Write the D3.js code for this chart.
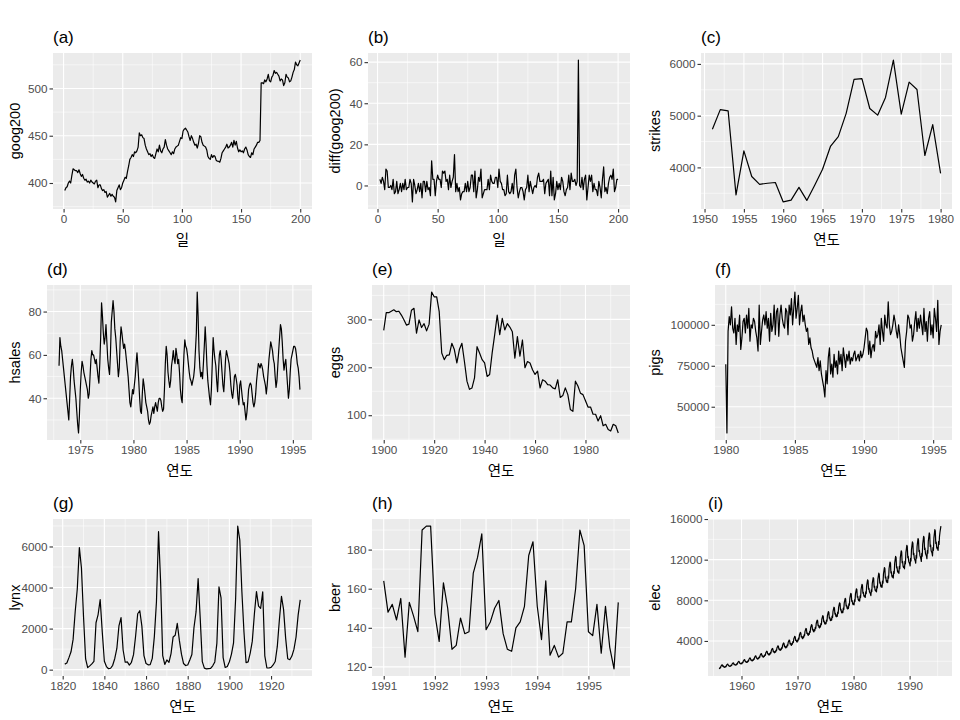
<!DOCTYPE html>
<html>
<head>
<meta charset="utf-8">
<script src="https://cdn.jsdelivr.net/npm/d3@7"></script>
<style>
  body { margin: 0; background: #fff; }
  text { font-family: "Liberation Sans", Arial, "Noto Sans CJK KR", sans-serif; }
</style>
</head>
<body>
<div id="chart"></div>
<script>
// ---- data ----
const goog200 = [
  392,395,396,400,402,400,408,415,414,413, 413,411,414,410,407,409,405,403,404,401,
  402,400,403,401,400,399,402,403,395,398, 398,394,392,393,390,391,385,387,389,386,
  388,386,385,380,392,395,398,393,395,400, 403,406,405,412,418,425,427,430,428,433,
  432,434,438,453,450,451,448,447,440,436, 433,430,431,428,430,427,426,431,436,433,
  440,434,432,436,438,446,440,436,434,432, 430,433,431,436,438,439,440,444,448,447,
  455,457,458,456,454,449,445,450,447,443, 440,441,437,442,450,449,443,440,439,438,
  435,428,426,425,430,427,429,428,424,423, 423,422,426,432,434,436,438,441,437,438,
  440,443,438,445,440,444,437,433,435,433, 434,432,436,438,435,430,428,427,432,430,
  436,438,440,443,443,445,506,506,505,509, 507,510,515,508,507,512,514,519,516,517,
  515,513,508,510,509,503,506,515,512,511, 507,508,512,517,520,528,525,524,527,530
];
const strikes = [4737,5117,5091,3468,4320,3825,3673,3694,3708,3333,3367,3614,3362,3655,3963,
  4405,4595,5045,5700,5716,5138,5010,5353,6074,5031,5648,5506,4230,4827,3885];
const hsales = [
  55,68,64,62,58,54,50,46,42,38,34,30,  40,50,55,58,54,48,44,40,34,28,24,32,
  44,52,57,55,52,50,48,46,44,40,42,50,  58,62,60,60,58,56,58,54,50,47,56,68,
  84,78,70,65,68,74,66,58,54,51,60,75,  80,85,80,72,68,62,56,50,54,66,73,70,
  66,63,65,62,58,54,50,44,38,36,40,44,  42,46,50,56,61,55,48,40,34,33,42,49,
  46,42,38,36,34,30,28,29,32,34,36,33,  36,38,36,34,38,40,40,39,36,34,35,44,
  56,64,60,52,48,45,48,55,58,62,58,56,  63,60,56,58,52,44,40,38,50,60,67,64,
  63,60,56,52,49,48,46,48,50,54,62,70,  89,78,62,54,50,52,49,56,64,73,65,55,
  48,44,40,37,44,56,68,62,58,55,48,43,  52,60,62,58,52,46,43,50,58,62,60,58,
  56,52,46,42,40,44,50,51,49,46,40,37,  46,48,44,40,37,38,34,30,33,38,44,46,
  47,46,42,38,36,38,42,48,52,56,55,54,  56,55,53,50,48,46,42,46,52,58,62,66,
  64,62,58,56,50,45,48,55,62,68,74,72,  66,58,53,56,58,52,46,40,44,52,58,60,
  62,64,64,63,60,56,54,50,44
];
const eggs = [277,314,314,317,320,316,317,309,299,288,290,319,323,271,299,283,291,276,290,357,
  347,347,316,230,216,225,226,250,237,209,237,250,212,171,154,157,178,243,230,216,
  209,181,185,230,268,309,268,302,278,291,284,274,219,264,223,257,199,212,209,195,
  185,192,157,174,171,164,163,157,155,174,137,141,157,143,112,108,171,161,146,143,
  130,117,117,102,102,88,99,78,81,70,67,81,78,63];
const pigs = [
  76,34,96,105,100,111,98,95,104,88,100,96,  106,85,92,102,104,95,106,98,110,90,100,98,
  104,102,96,92,84,112,88,96,103,106,100,108, 98,104,90,107,96,100,112,94,108,110,93,106,
  112,104,100,98,110,108,94,112,106,116,100,110, 120,104,110,118,100,108,112,102,106,100,96,98,
  88,92,86,84,80,78,76,74,80,72,78,70,  66,62,56,72,64,80,86,70,76,68,82,74,
  78,70,84,76,82,72,86,80,74,82,78,84,  76,80,78,82,84,78,80,82,78,84,80,82,
  86,92,98,96,82,90,80,86,88,84,96,92,  94,100,88,104,96,90,106,100,98,114,100,94,
  96,100,106,102,96,92,100,94,86,82,78,74,  90,96,106,104,98,100,90,94,102,108,96,104,
  98,106,100,94,110,96,102,90,104,108,94,100,  92,110,104,96,115,88,96,100
].map(d => d * 1000);
const lynx = [269,321,585,871,1475,2821,3928,5943,4950,2577,523,98,184,279,409,2285,2685,3409,1824,409,
  151,45,68,213,546,1033,2129,2536,957,361,377,225,360,731,1638,2725,2871,2119,684,299,
  236,245,552,1623,3311,6721,4254,687,255,473,358,784,1594,1676,2251,1426,756,299,201,229,
  469,736,2042,2811,4431,2511,389,73,39,49,59,188,377,1292,4031,3495,587,105,153,387,
  758,1307,3465,6991,6313,3794,1836,345,382,808,1388,2713,3800,3091,2985,3790,674,81,80,108,
  229,399,1132,2432,3574,2935,1537,529,485,662,1000,1590,2657,3396];
const beer = [164,148,152,144,155,125,153,146,138,190,192,192, 147,133,163,150,129,131,145,137,138,168,176,188,
  139,143,150,154,137,129,128,140,143,151,177,184, 151,134,164,126,131,125,127,143,143,160,190,182,
  138,136,152,127,151,130,119,153];
const elec = [
  1254,1290,1379,1346,1535,1555,1655,1651,1500,1538,1486,1394,
  1450,1420,1510,1480,1620,1670,1720,1700,1560,1580,1510,1500,
  1560,1530,1630,1600,1750,1800,1850,1830,1680,1700,1630,1610,
  1680,1650,1760,1720,1880,1940,1990,1970,1810,1830,1760,1740,
  1820,1780,1900,1860,2040,2100,2160,2140,1960,1980,1900,1880,
  1970,1930,2060,2010,2200,2270,2330,2310,2120,2140,2060,2040,
  2140,2090,2230,2190,2390,2460,2530,2510,2300,2320,2230,2210,
  2330,2280,2430,2380,2600,2680,2750,2730,2500,2530,2430,2400,
  2530,2480,2640,2580,2830,2910,2990,2960,2720,2750,2640,2610,
  2750,2690,2870,2810,3080,3170,3260,3230,2960,2990,2870,2840,
  2980,2910,3100,3040,3330,3420,3520,3490,3200,3230,3100,3070,
  3210,3140,3350,3280,3590,3690,3800,3760,3450,3480,3350,3310,
  3460,3390,3610,3530,3870,3980,4090,4050,3720,3760,3610,3570,
  3770,3690,3930,3850,4210,4330,4460,4410,4050,4090,3930,3890,
  4090,4000,4270,4180,4580,4710,4840,4800,4400,4440,4270,4220,
  4420,4320,4610,4510,4940,5080,5230,5180,4750,4800,4610,4560,
  4740,4640,4950,4850,5300,5460,5610,5560,5100,5150,4950,4900,
  5120,5010,5340,5230,5720,5890,6050,6000,5500,5560,5340,5280,
  5490,5370,5720,5610,6140,6310,6490,6430,5900,5960,5720,5660,
  5810,5690,6060,5940,6500,6690,6880,6810,6250,6310,6060,6000,
  6180,6050,6450,6320,6920,7120,7320,7250,6650,6720,6450,6380,
  6560,6420,6840,6700,7330,7540,7760,7680,7050,7120,6840,6770,
  6930,6780,7230,7080,7750,7970,8200,8120,7450,7520,7230,7150,
  7350,7190,7660,7510,8220,8450,8690,8610,7900,7980,7660,7580,
  7720,7550,8050,7890,8630,8880,9130,9050,8300,8380,8050,7970,
  8090,7920,8440,8270,9050,9310,9570,9480,8700,8790,8440,8350,
  8460,8280,8830,8650,9460,9740,10010,9920,9100,9190,8830,8740,
  8650,8460,9020,8840,9670,9950,10230,10140,9300,9390,9020,8930,
  9020,8830,9410,9220,10090,10380,10670,10570,9700,9800,9410,9310,
  9490,9280,9890,9690,10610,10910,11220,11120,10200,10300,9890,9790,
  9950,9740,10380,10170,11130,11450,11770,11660,10700,10810,10380,10270,
  10420,10190,10860,10640,11650,11980,12320,12210,11200,11310,10860,10750,
  10880,10650,11350,11120,12170,12520,12870,12750,11700,11820,11350,11230,
  11350,11100,11830,11590,12690,13050,13420,13300,12200,12320,11830,11710,
  11630,11380,12130,11880,13000,13380,13750,13630,12500,12630,12130,12000,
  11900,11650,12420,12160,13310,13700,14080,13950,12800,12930,12420,12290,
  12090,11830,12610,12350,13520,13910,14300,14170,13000,13130,12610,12480,
  12370,12100,12900,12640,13830,14230,14630,14500,13300,13430,12900,12770,
  12650,12380,13190,12920,14140,14550,14960,14820,13600,13740,13190,13060,
  13210,12920,13770,13490,14300,14700,15000,15300
];

const diffGoog = goog200.slice(1).map((d, i) => d - goog200[i]);

// time index helpers: ts(start, frequency)
const tsIndex = (values, start, freq) => values.map((v, i) => ({ t: start + i / freq, v }));

const panels = [
  { title: '(a)', data: goog200.map((v, i) => ({ t: i + 1, v })), xLabel: '일', yLabel: 'goog200',
    xTicks: [0, 50, 100, 150, 200], yTicks: [400, 450, 500], box: [53, 53, 312, 209], cell: 0 },
  { title: '(b)', data: diffGoog.map((v, i) => ({ t: i + 2, v })), xLabel: '일', yLabel: 'diff(goog200)',
    xTicks: [0, 50, 100, 150, 200], yTicks: [0, 20, 40, 60], box: [368, 53, 630, 209], cell: 320 },
  { title: '(c)', data: tsIndex(strikes, 1951, 1), xLabel: '연도', yLabel: 'strikes',
    xTicks: [1950, 1955, 1960, 1965, 1970, 1975, 1980], yTicks: [4000, 5000, 6000], box: [701, 53, 952, 209], cell: 640 },
  { title: '(d)', data: tsIndex(hsales, 1973, 12), xLabel: '연도', yLabel: 'hsales',
    xTicks: [1975, 1980, 1985, 1990, 1995], yTicks: [40, 60, 80], box: [47, 285, 312, 440], cell: 0 },
  { title: '(e)', data: tsIndex(eggs, 1900, 1), xLabel: '연도', yLabel: 'eggs',
    xTicks: [1900, 1920, 1940, 1960, 1980], yTicks: [100, 200, 300], box: [372, 285, 630, 440], cell: 320 },
  { title: '(f)', data: tsIndex(pigs, 1980, 12), xLabel: '연도', yLabel: 'pigs',
    xTicks: [1980, 1985, 1990, 1995], yTicks: [50000, 75000, 100000], box: [715, 285, 952, 440], cell: 640 },
  { title: '(g)', data: tsIndex(lynx, 1821, 1), xLabel: '연도', yLabel: 'lynx',
    xTicks: [1820, 1840, 1860, 1880, 1900, 1920], yTicks: [0, 2000, 4000, 6000], box: [53, 519, 312, 676], cell: 0 },
  { title: '(h)', data: tsIndex(beer, 1991, 12), xLabel: '연도', yLabel: 'beer',
    xTicks: [1991, 1992, 1993, 1994, 1995], yTicks: [120, 140, 160, 180], box: [372, 519, 630, 676], cell: 320 },
  { title: '(i)', data: tsIndex(elec, 1956, 12), xLabel: '연도', yLabel: 'elec',
    xTicks: [1960, 1970, 1980, 1990], yTicks: [4000, 8000, 12000, 16000], box: [708, 519, 952, 676], cell: 640 }
];

const svg = d3.select('#chart').append('svg')
  .attr('width', 960).attr('height', 720);

// ggplot-style 5% expansion
const expand = ext => { const p = (ext[1] - ext[0]) * 0.05; return [ext[0] - p, ext[1] + p]; };

const minorBreaks = (ticks, dom) => {
  const step = ticks[1] - ticks[0];
  const out = [];
  for (let t = ticks[0] - step / 2; t <= ticks[ticks.length - 1] + step; t += step) {
    if (t >= dom[0] && t <= dom[1]) out.push(t);
  }
  return out;
};

panels.forEach(p => {
  const [x0, y0, x1, y1] = p.box;
  const xScale = d3.scaleLinear().domain(expand(d3.extent(p.data, d => d.t))).range([x0, x1]);
  const yScale = d3.scaleLinear().domain(expand(d3.extent(p.data, d => d.v))).range([y1, y0]);
  const g = svg.append('g');

  g.append('rect').attr('x', x0).attr('y', y0).attr('width', x1 - x0).attr('height', y1 - y0)
    .attr('fill', '#EBEBEB');

  const xMaj = p.xTicks.filter(t => t >= xScale.domain()[0] && t <= xScale.domain()[1]);
  const yMaj = p.yTicks.filter(t => t >= yScale.domain()[0] && t <= yScale.domain()[1]);

  minorBreaks(p.xTicks, xScale.domain()).forEach(t => g.append('line')
    .attr('x1', xScale(t)).attr('x2', xScale(t)).attr('y1', y0).attr('y2', y1)
    .attr('stroke', '#fff').attr('stroke-width', 0.55));
  minorBreaks(p.yTicks, yScale.domain()).forEach(t => g.append('line')
    .attr('y1', yScale(t)).attr('y2', yScale(t)).attr('x1', x0).attr('x2', x1)
    .attr('stroke', '#fff').attr('stroke-width', 0.55));
  xMaj.forEach(t => g.append('line')
    .attr('x1', xScale(t)).attr('x2', xScale(t)).attr('y1', y0).attr('y2', y1)
    .attr('stroke', '#fff').attr('stroke-width', 1.1));
  yMaj.forEach(t => g.append('line')
    .attr('y1', yScale(t)).attr('y2', yScale(t)).attr('x1', x0).attr('x2', x1)
    .attr('stroke', '#fff').attr('stroke-width', 1.1));

  // axes
  const xAxis = g.append('g').attr('transform', `translate(0, ${y1})`)
    .call(d3.axisBottom(xScale).tickValues(xMaj).tickSize(3.5).tickPadding(2).tickFormat(d3.format('d')));
  const yAxis = g.append('g').attr('transform', `translate(${x0}, 0)`)
    .call(d3.axisLeft(yScale).tickValues(yMaj).tickSize(3.5).tickPadding(2).tickFormat(d3.format('d')));
  [xAxis, yAxis].forEach(a => {
    a.select('.domain').remove();
    a.selectAll('line').attr('stroke', '#333333').attr('stroke-width', 1.1);
    a.selectAll('text').attr('fill', '#4D4D4D').style('font-size', '11.7px')
      .style('font-family', '"Liberation Sans", Arial, sans-serif');
  });

  const line = d3.line().x(d => xScale(d.t)).y(d => yScale(d.v));
  g.append('path').datum(p.data).attr('d', line)
    .attr('fill', 'none').attr('stroke', '#000').attr('stroke-width', 1.2)
    .attr('stroke-linejoin', 'round');

  g.append('text').attr('x', x0).attr('y', y0 - 10).text(p.title)
    .style('font-size', '17px').attr('fill', '#000');
  g.append('text').attr('x', (x0 + x1) / 2).attr('y', y1 + 36).attr('text-anchor', 'middle')
    .text(p.xLabel).style('font-size', '14.5px')
    .style('font-family', '"Noto Sans CJK KR", sans-serif');
  g.append('text').attr('transform', `translate(${p.cell + 20}, ${(y0 + y1) / 2}) rotate(-90)`)
    .attr('text-anchor', 'middle').text(p.yLabel).style('font-size', '14.5px');
});
</script>
</body>
</html>
